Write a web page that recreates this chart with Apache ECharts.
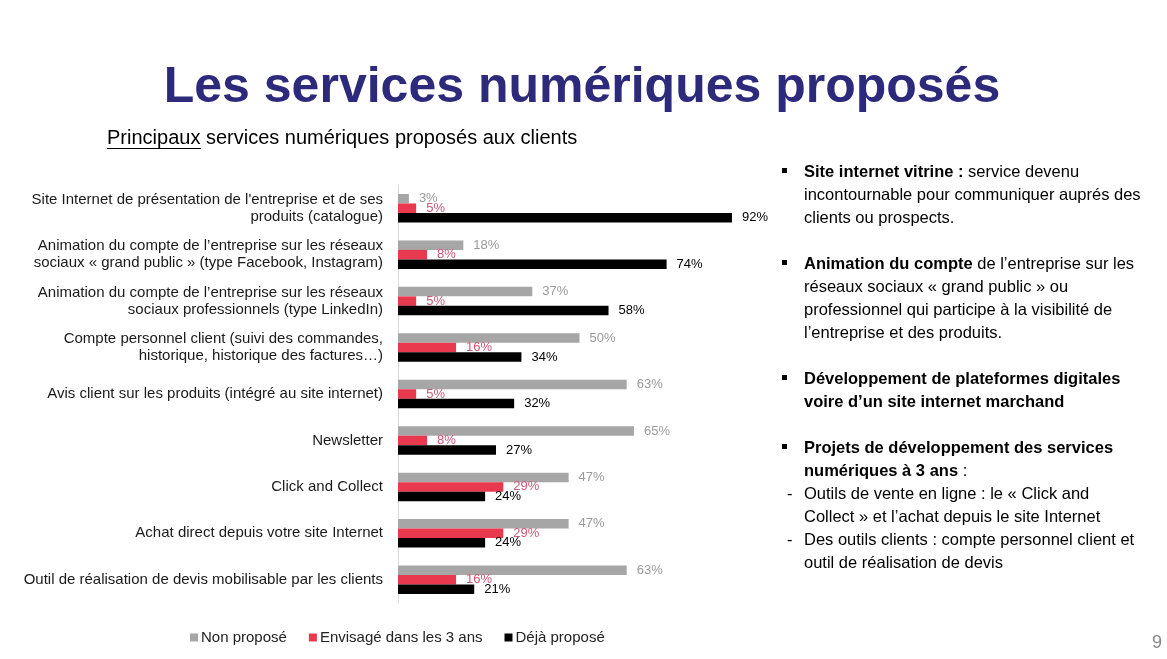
<!DOCTYPE html>
<html><head><meta charset="utf-8">
<script src="https://cdn.jsdelivr.net/npm/echarts@6/dist/echarts.min.js"></script>
<style>html,body{margin:0;padding:0;background:#fff}#c{width:1167px;height:659px}</style>
</head><body><div id="c"></div>
<script>
const categories = [
  "Site Internet de présentation de l'entreprise et de ses\nproduits (catalogue)",
  "Animation du compte de l’entreprise sur les réseaux\nsociaux « grand public » (type Facebook, Instagram)",
  "Animation du compte de l’entreprise sur les réseaux\nsociaux professionnels (type LinkedIn)",
  "Compte personnel client (suivi des commandes,\nhistorique, historique des factures…)",
  "Avis client sur les produits (intégré au site internet)",
  "Newsletter",
  "Click and Collect",
  "Achat direct depuis votre site Internet",
  "Outil de réalisation de devis mobilisable par les clients"
];
const seriesNames = ["Non proposé", "Envisagé dans les 3 ans", "Déjà proposé"];
const nonPropose = [3, 18, 37, 50, 63, 65, 47, 47, 63];
const envisage = [5, 8, 5, 16, 5, 8, 29, 29, 16];
const dejaPropose = [92, 74, 58, 34, 32, 27, 24, 24, 21];

const FONT = "Liberation Sans, Arial, sans-serif";
const colors = ["#a6a6a6", "#e8394f", "#000000"];
const labelColors = ["#9a9a9a", "#cf5876", "#000000"];

const chart = echarts.init(document.getElementById('c'), null, {renderer: 'canvas'});

function mkSeries(name, data, i) {
  return {
    name: name, type: 'bar', data: data,
    barWidth: 9.5, barGap: '0%',
    itemStyle: {color: colors[i]},
    label: {show: true, position: 'right', distance: 10, formatter: '{c}%',
      color: labelColors[i], fontSize: 13, fontFamily: FONT},
    emphasis: {disabled: true}, animation: false
  };
}

// right-side text lines: [lineIndex, kind, rich text]
const sideLines = [
  [0, 'bullet', '{b|Site internet vitrine :} service devenu'],
  [1, '', 'incontournable pour communiquer auprés des'],
  [2, '', 'clients ou prospects.'],
  [4, 'bullet', '{b|Animation du compte} de l’entreprise sur les'],
  [5, '', 'réseaux sociaux « grand public » ou'],
  [6, '', 'professionnel qui participe à la visibilité de'],
  [7, '', 'l’entreprise et des produits.'],
  [9, 'bullet', '{b|Développement de plateformes digitales}'],
  [10, '', '{b|voire d’un site internet marchand}'],
  [12, 'bullet', '{b|Projets de développement des services}'],
  [13, '', '{b|numériques à 3 ans} :'],
  [14, 'dash', 'Outils de vente en ligne : le « Click and'],
  [15, '', 'Collect » et l’achat depuis le site Internet'],
  [16, 'dash', 'Des outils clients : compte personnel client et'],
  [17, '', 'outil de réalisation de devis']
];

const SIDE_FS = 16.5;
const graphics = [
  {type: 'text', x: 582, y: 88, style: {text: 'Les services numériques proposés',
    font: 'bold 50px ' + FONT, fill: '#2d2a7c', align: 'center', verticalAlign: 'middle'}},
  {type: 'text', x: 107, y: 138, style: {text: 'Principaux services numériques proposés aux clients',
    font: '20px ' + FONT, fill: '#000', verticalAlign: 'middle'}},
  {type: 'line', shape: {x1: 107, y1: 148.5, x2: 201, y2: 148.5}, style: {stroke: '#000', lineWidth: 1.2}},
  {type: 'text', left: 1152, top: 634, style: {text: '9', font: '18px ' + FONT, fill: '#888'}}
];
sideLines.forEach(function (l) {
  const y = 172 + 23 * l[0];
  if (l[1] === 'bullet') {
    graphics.push({type: 'rect', shape: {x: 782, y: y - 4, width: 5, height: 5}, style: {fill: '#000'}});
  } else if (l[1] === 'dash') {
    graphics.push({type: 'text', x: 787, y: y, style: {text: '-', font: SIDE_FS + 'px ' + FONT, fill: '#000', verticalAlign: 'middle'}});
  }
  graphics.push({type: 'text', x: 804, y: y, style: {text: l[2], font: SIDE_FS + 'px ' + FONT, fill: '#000',
    verticalAlign: 'middle', rich: {b: {fontWeight: 'bold', fontSize: SIDE_FS, fontFamily: FONT, fill: '#000'}}}});
});

chart.setOption({
  animation: false,
  textStyle: {fontFamily: FONT},
  grid: {left: 398, top: 185, width: 363, height: 418, containLabel: false},
  legend: {data: seriesNames, left: 185, top: 625, itemWidth: 8, itemHeight: 8, itemGap: 22,
    icon: 'rect', textStyle: {fontSize: 15, color: '#222', fontFamily: FONT, padding: [0, 0, 0, -2]}},
  xAxis: {type: 'value', min: 0, max: 100, show: false},
  yAxis: {type: 'category', data: categories, inverse: true,
    axisLine: {show: true, lineStyle: {color: '#d9d9d9', width: 1}},
    axisTick: {show: false},
    axisLabel: {fontSize: 15, color: '#1a1a1a', lineHeight: 17, margin: 15, fontFamily: FONT, align: 'right'}},
  series: [mkSeries(seriesNames[0], nonPropose, 0), mkSeries(seriesNames[1], envisage, 1), mkSeries(seriesNames[2], dejaPropose, 2)],
  graphic: graphics
});
</script></body></html>
